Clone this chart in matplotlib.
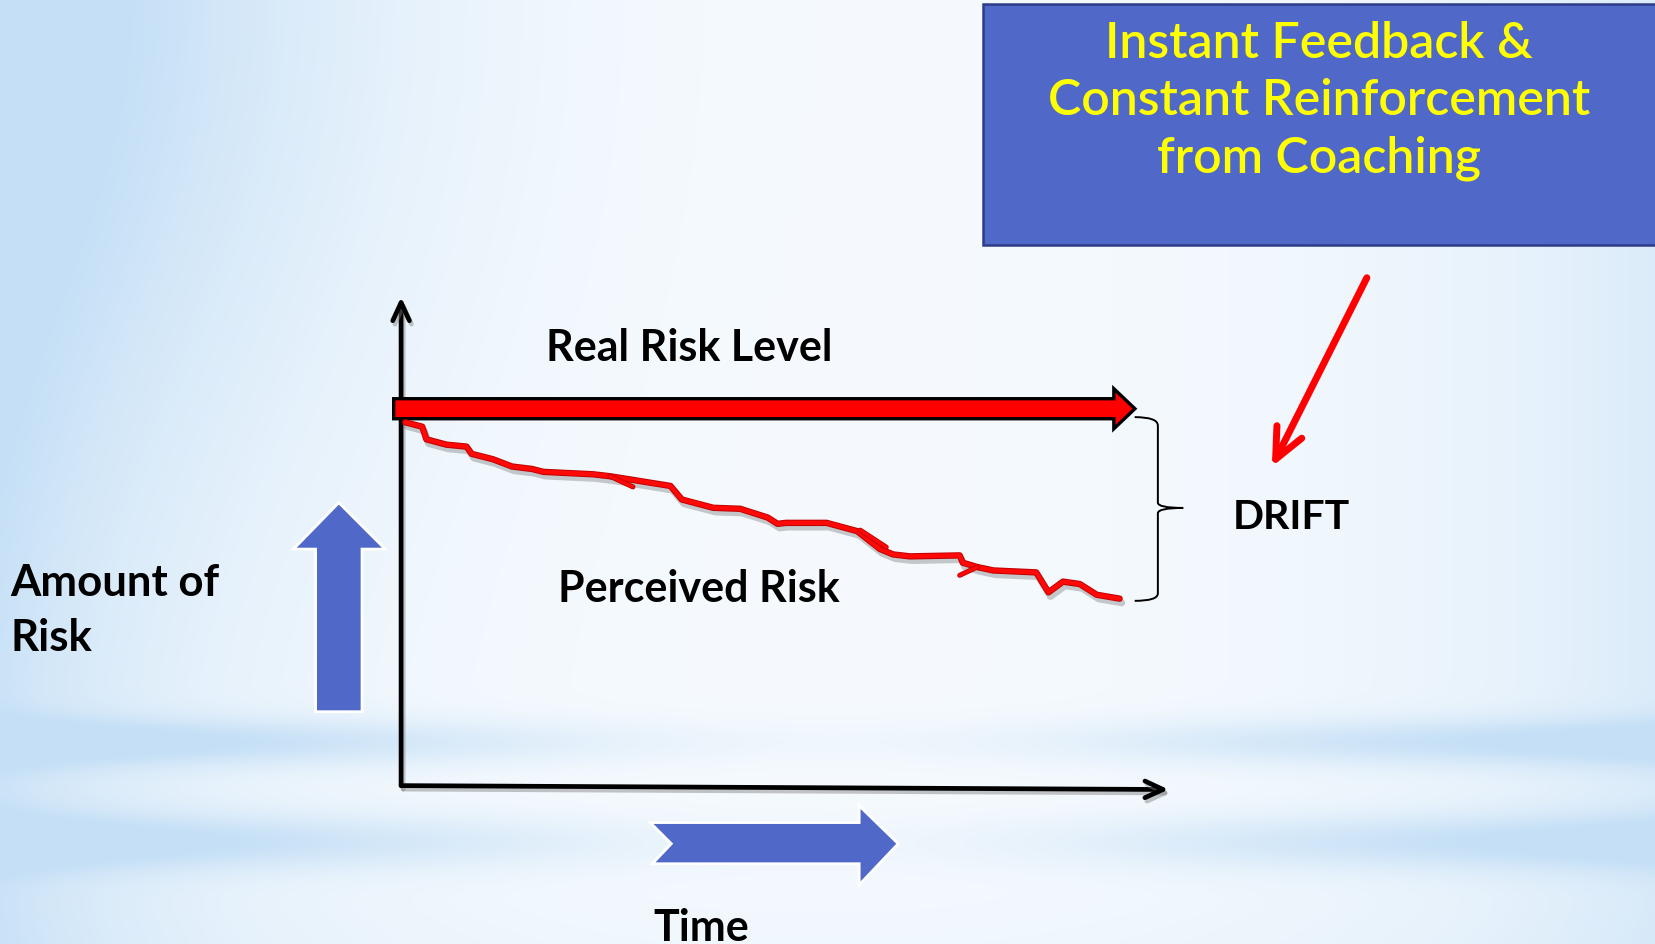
import numpy as np
import matplotlib
matplotlib.use("Agg")
import matplotlib.pyplot as plt
from matplotlib.patches import Polygon, FancyArrow, FancyArrowPatch, PathPatch, Rectangle
from matplotlib.path import Path
import matplotlib.patheffects as pe

# ---------------- data ----------------
# perceived risk over time (time 0..100, risk in same units as real risk)
perceived_time = [0.55, 2.76, 3.31, 5.93, 8.55, 9.24, 12.0, 14.5, 17.1, 18.6, 25.1, 27.3,
                  35.2, 36.7, 40.8, 44.3, 47.9, 49.2, 50.3, 55.6, 59.6, 62.6, 64.3, 66.5,
                  73.0, 73.4, 75.3, 77.4, 83.0, 84.6, 86.5, 88.7, 90.9, 93.9]
perceived_risk = [74.8, 73.9, 71.3, 70.2, 69.8, 68.3, 67.2, 65.7, 65.2, 64.6, 64.1, 63.7,
                  61.7, 58.9, 57.2, 57.0, 55.2, 53.9, 54.1, 54.1, 52.4, 48.7, 47.6, 47.2,
                  47.4, 45.9, 45.0, 44.3, 43.9, 39.8, 42.0, 41.5, 39.3, 38.5]
# small hand-drawn overstrokes
flick_time = [[27.3, 30.3], [60.0, 63.4], [75.3, 73.0]]
flick_risk = [[63.7, 61.5], [52.6, 49.1], [45.0, 43.3]]
real_risk_level = 77.6
real_risk_start, real_risk_end = -0.97, 95.9

label_real = "Real Risk Level"
label_perceived = "Perceived Risk"
label_drift = "DRIFT"
label_amount = ["Amount of", "Risk"]
label_time = "Time"
box_lines = ["Instant Feedback &", "Constant Reinforcement", "from Coaching"]

# ---------------- figure ----------------
W, H = 1568.0, 895.0   # layout units (scaled to the 1655x945 output)
fig = plt.figure(figsize=(16.55, 9.45), dpi=100)
bg = fig.add_axes([0, 0, 1, 1])
bg.set_xlim(0, W)
bg.set_ylim(H, 0)
bg.axis("off")

# background gradient
xx, yy = np.meshgrid(np.linspace(0, W, 400), np.linspace(0, H, 240))
left = np.exp(-xx / 200.0)
right = np.exp(-(W - xx) / 240.0)
topleft = np.exp(-(xx / 380.0) ** 2 - (yy / 420.0) ** 2)
side = 1 - np.exp(-((xx - 790) / 420.0) ** 2)
b1 = np.exp(-((yy - 705) / 22.0) ** 2)
b2 = np.exp(-((yy - 800) / 26.0) ** 2)
bottom = np.clip((yy - 800) / 200.0, 0, 1)
w = 0.8 * left + 0.55 * right + 0.6 * topleft + (b1 + b2) * (0.12 + 0.7 * side) + 0.2 * bottom
w = np.clip(w, 0, 1)
white = np.array([0.97, 0.984, 0.997])
blue = np.array([0.77, 0.875, 0.965])
img = white[None, None, :] * (1 - w[..., None]) + blue[None, None, :] * w[..., None]
bg.imshow(img, extent=(0, W, H, 0), aspect="auto", zorder=0, interpolation="bicubic")

arrow_blue = "#5068c8"

# up arrow (amount of risk)
up = Polygon([(321, 477), (365, 521), (343, 521), (343, 675), (299, 675), (299, 521), (278, 521)],
             closed=True, facecolor=arrow_blue, edgecolor="white", lw=2, zorder=2)
bg.add_patch(up)
# right notched arrow (time)
rt = Polygon([(616, 780), (814, 780), (814, 764), (851, 800), (814, 839), (814, 819), (618, 819), (636, 800)],
             closed=True, facecolor=arrow_blue, edgecolor="white", lw=2, zorder=2)
bg.add_patch(rt)

# box
box = Rectangle((931, 5), 700, 228, facecolor=arrow_blue, edgecolor="#2e3c88", lw=1.8, zorder=2)
bg.add_patch(box)
for i, s in enumerate(box_lines):
    bg.text(1250, 55 + 54 * i, s, ha="center", va="baseline", color="#ffff00",
            fontsize=36, family=["Lato", "DejaVu Sans"], fontweight="semibold", zorder=3)

# red pointer arrow
ptr = FancyArrowPatch((1295, 264), (1205, 443), arrowstyle="->,head_length=22,head_width=10",
                      mutation_scale=1, color="#ff0000", lw=5, capstyle="round",
                      joinstyle="round", zorder=3, shrinkA=0, shrinkB=0)
bg.add_patch(ptr)

# brace
verts = [(1075, 396), (1097, 396), (1097, 404), (1097, 477), (1097, 482), (1121, 482),
         (1097, 482), (1097, 487), (1097, 563), (1097, 570), (1075, 570)]
codes = [Path.MOVETO, Path.CURVE3, Path.CURVE3, Path.LINETO, Path.CURVE3, Path.CURVE3,
         Path.CURVE3, Path.CURVE3, Path.LINETO, Path.CURVE3, Path.CURVE3]
bg.add_patch(PathPatch(Path(verts, codes), facecolor="none", edgecolor="black", lw=1.4, zorder=3))

# labels
bold = dict(family=["Lato", "DejaVu Sans"], fontweight="bold", color="black", zorder=3)
bg.text(517, 342, label_real, ha="left", va="baseline", fontsize=31, **bold)
bg.text(529, 570, label_perceived, ha="left", va="baseline", fontsize=31, **bold)
bg.text(1168, 501, label_drift, ha="left", va="baseline", fontsize=29.5, **bold)
bg.text(10, 564, label_amount[0], ha="left", va="baseline", fontsize=31.5, **bold)
bg.text(10, 617, label_amount[1], ha="left", va="baseline", fontsize=31.5, **bold)
bg.text(619, 891, label_time, ha="left", va="baseline", fontsize=31, **bold)

# ---------------- chart axes ----------------
x0, y0 = 380.0, 745.0
sx, sy = 7.25, 4.6
ax = fig.add_axes([x0 / W, (H - y0) / H, 100 * sx / W, 100 * sy / H])
ax.set_xlim(0, 100)
ax.set_ylim(0, 100)
ax.axis("off")
ax.patch.set_alpha(0)

shadow = [pe.SimpleLineShadow(offset=(1.5, -2.5), shadow_color="gray", alpha=0.45), pe.Normal()]
ax_arrow = "->,head_length=13,head_width=6"
ay = FancyArrowPatch((0, 0), (0, 100.6), arrowstyle=ax_arrow, mutation_scale=1, color="black",
                     lw=3.4, shrinkA=0, shrinkB=0, clip_on=False, zorder=4)
ay.set_path_effects(shadow)
ax.add_patch(ay)
axx = FancyArrowPatch((0, 0), (100.3, -0.8), arrowstyle=ax_arrow, mutation_scale=1, color="black",
                      lw=3.4, shrinkA=0, shrinkB=0, clip_on=False, zorder=4)
axx.set_path_effects(shadow)
ax.add_patch(axx)

# real risk arrow
rr = FancyArrow(real_risk_start, real_risk_level, real_risk_end - real_risk_start, 0,
                width=4.13, head_width=8.26, head_length=2.76, length_includes_head=True,
                facecolor="#ff0000", edgecolor="black", lw=2.4, clip_on=False, zorder=5)
ax.add_patch(rr)

# perceived risk line
line_fx = [pe.SimpleLineShadow(offset=(1.5, -3), shadow_color="#555555", alpha=0.3, linewidth=5),
           pe.Stroke(linewidth=4.6, foreground="#c00000"), pe.Normal()]
ax.plot(perceived_time, perceived_risk, color="#ff0808", lw=3.2, solid_joinstyle="round",
        solid_capstyle="round", path_effects=line_fx, zorder=6, clip_on=False)
for ft, fr in zip(flick_time, flick_risk):
    ax.plot(ft, fr, color="#ff0808", lw=2.4, solid_capstyle="round",
            path_effects=[pe.Stroke(linewidth=3.6, foreground="#c00000"), pe.Normal()],
            zorder=6, clip_on=False)

fig.savefig("out.png", dpi=100)
